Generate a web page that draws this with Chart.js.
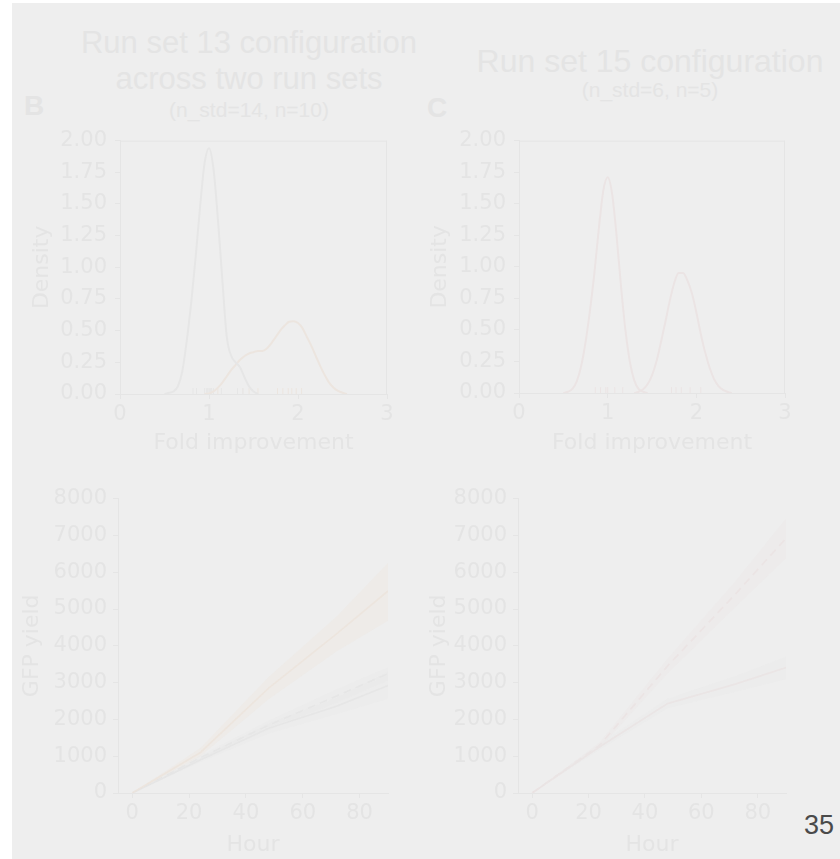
<!DOCTYPE html>
<html>
<head>
<meta charset="utf-8">
<script src="https://cdn.jsdelivr.net/npm/chart.js@4.4.0/dist/chart.umd.min.js"></script>
<style>
  html, body { margin: 0; padding: 0; background: #ffffff; }
  #page { position: relative; width: 840px; height: 859px; overflow: hidden; background: #ffffff; }
  #panel { position: absolute; left: 12px; top: 3px; width: 828px; height: 856px; background: #eeeeee; }
  canvas { position: absolute; }
  .t { position: absolute; font-family: "Liberation Sans", Arial, sans-serif; color: #e4e4e4; white-space: nowrap; text-align: center; }
</style>
</head>
<body>
<div id="page">
  <div id="panel"></div>
  <div class="t" style="left:0px; width:498px; top:25px; font-size:31px; line-height:36px;">Run set 13 configuration<br>across two run sets</div>
  <div class="t" style="left:0px; width:498px; top:98px; font-size:21px; line-height:24px;">(n_std=14, n=10)</div>
  <div class="t" style="left:24px; top:90px; font-size:28px; line-height:32px; font-weight:bold; text-align:left;">B</div>
  <div class="t" style="left:450px; width:400px; top:43px; font-size:32px; line-height:36px;">Run set 15 configuration</div>
  <div class="t" style="left:450px; width:400px; top:78px; font-size:21px; line-height:24px;">(n_std=6, n=5)</div>
  <div class="t" style="left:427px; top:92px; font-size:28px; line-height:32px; font-weight:bold; text-align:left;">C</div>
  <div class="t" style="left:804px; top:810px; font-size:27px; line-height:31px; color:#4a4a4a; text-align:left;">35</div>
  <canvas id="cB1" width="400" height="345" style="left:12px; top:120px;"></canvas>
  <canvas id="cC1" width="400" height="345" style="left:412px; top:120px;"></canvas>
  <canvas id="cB2" width="400" height="379" style="left:12px; top:480px;"></canvas>
  <canvas id="cC2" width="400" height="379" style="left:412px; top:480px;"></canvas>
</div>
<script>
// ---------------- DATA ----------------
// Panel B, density (fold improvement)
const densB_std_x = [0.50,0.55,0.60,0.65,0.70,0.75,0.80,0.85,0.90,0.95,1.00,1.05,1.10,1.15,1.20,1.25,1.30,1.35,1.40,1.45,1.50,1.55];
const densB_std_y = [0.00,0.01,0.02,0.06,0.18,0.42,0.72,1.08,1.48,1.82,1.94,1.78,1.38,0.90,0.45,0.30,0.25,0.21,0.13,0.06,0.02,0.00];
const densB_new_x = [0.95,1.00,1.05,1.10,1.15,1.20,1.25,1.30,1.35,1.40,1.45,1.50,1.55,1.60,1.65,1.70,1.75,1.80,1.85,1.90,1.95,2.00,2.05,2.10,2.15,2.20,2.25,2.30,2.35,2.40,2.45,2.50,2.55];
const densB_new_y = [0.00,0.005,0.02,0.05,0.09,0.14,0.19,0.23,0.27,0.30,0.32,0.33,0.34,0.34,0.36,0.40,0.45,0.50,0.54,0.57,0.575,0.56,0.52,0.45,0.38,0.30,0.22,0.15,0.09,0.05,0.025,0.01,0.00];
const rugB_std = [0.82,0.86,0.95,0.97,0.98,0.99,1.00,1.01,1.02,1.03,1.05,1.14,1.32,1.38];
const rugB_new = [1.10,1.38,1.45,1.55,1.77,1.83,1.89,1.93,1.98,2.04];
// Panel C, density
const densC_std_x = [0.50,0.55,0.60,0.65,0.70,0.75,0.80,0.85,0.90,0.95,1.00,1.05,1.10,1.15,1.20,1.25,1.30,1.35,1.40,1.45];
const densC_std_y = [0.00,0.01,0.03,0.09,0.21,0.40,0.65,0.95,1.30,1.60,1.71,1.58,1.25,0.85,0.50,0.25,0.10,0.03,0.01,0.00];
const densC_new_x = [1.30,1.35,1.40,1.45,1.50,1.55,1.60,1.65,1.70,1.75,1.80,1.85,1.90,1.95,2.00,2.05,2.10,2.15,2.20,2.25,2.30,2.35,2.40];
const densC_new_y = [0.00,0.01,0.03,0.07,0.14,0.25,0.40,0.56,0.73,0.87,0.95,0.95,0.89,0.79,0.64,0.47,0.32,0.20,0.11,0.055,0.025,0.01,0.00];
const rugC_std = [0.86,0.92,0.98,1.00,1.08,1.17];
const rugC_new = [1.72,1.77,1.83,1.93,2.05];
const rugHeight = 0.023;
// Density axis ticks
const densYTicks = [0,0.25,0.5,0.75,1,1.25,1.5,1.75,2];
const densXTicks = [0,1,2,3];
// Growth curves (GFP yield vs hour)
const hours = [0,24,48,72,90];
const B_std_mean = [0,900,1760,2360,2920];
const B_std_lo   = [0,840,1620,2150,2560];
const B_std_hi   = [0,960,1900,2600,3300];
const B_std2_mean = [0,960,1840,2640,3240];
const B_std2_lo   = [0,900,1720,2450,3050];
const B_std2_hi   = [0,1020,1960,2820,3420];
const B_new_mean = [0,1100,2850,4330,5490];
const B_new_lo   = [0,1000,2550,3850,4680];
const B_new_hi   = [0,1220,3150,4800,6250];
const C_std_mean = [0,1260,2430,2960,3410];
const C_std_lo   = [0,1180,2300,2750,3100];
const C_std_hi   = [0,1340,2560,3170,3700];
const C_new_mean = [0,1300,3450,5400,6920];
const C_new_lo   = [0,1220,3250,5050,6380];
const C_new_hi   = [0,1380,3650,5750,7460];
const gfpYTicks = [0,1000,2000,3000,4000,5000,6000,7000,8000];
const hourTicks = [0,20,40,60,80];

// ---------------- STYLE ----------------
const AX = '#e5e5e5';
const TXT = '#e4e4e4';
const GRAY = '#e6e6e6';
const ORANGE = '#ece5df';
const PINK = '#ebe4e4';
const TICKFONT = { family: 'DejaVu Sans', size: 21 };

const zip = (xs, ys) => xs.map((x, i) => ({ x: x, y: ys[i] }));
const rug = (xs) => xs.map(x => ({ x: x, y: rugHeight }));

const boxPlugin = {
  id: 'box',
  afterDraw(chart, args, opts) {
    if (!opts.on) return;
    const a = chart.chartArea, c = chart.ctx;
    c.save();
    c.strokeStyle = AX; c.lineWidth = 1;
    c.beginPath();
    c.moveTo(a.left, a.top + 0.5); c.lineTo(a.right, a.top + 0.5);
    c.moveTo(a.right - 0.5, a.top); c.lineTo(a.right - 0.5, a.bottom);
    c.stroke();
    c.restore();
  }
};

function xScale(min, max, ticks, title, h, titlePad) {
  return {
    type: 'linear', min: min, max: max,
    afterBuildTicks: s => { s.ticks = ticks.map(v => ({ value: v })); },
    afterFit: s => { s.height = h; },
    grid: { drawOnChartArea: false, color: AX, tickLength: 5, tickColor: AX },
    border: { color: AX, width: 1 },
    ticks: { color: TXT, font: TICKFONT, padding: 3, maxRotation: 0, autoSkip: false },
    title: { display: true, text: title, color: TXT, font: { family: 'DejaVu Sans', size: 22 }, padding: { top: 0, bottom: titlePad } }
  };
}
function yScale(min, max, ticks, fmt, title, w, tickPad, titlePad) {
  return {
    type: 'linear', min: min, max: max,
    afterBuildTicks: s => { s.ticks = ticks.map(v => ({ value: v })); },
    afterFit: s => { s.width = w; },
    grid: { drawOnChartArea: false, color: AX, tickLength: 5, tickColor: AX },
    border: { color: AX, width: 1 },
    ticks: { color: TXT, font: TICKFONT, padding: tickPad, autoSkip: false, callback: fmt },
    title: { display: true, text: title, color: TXT, font: { family: 'DejaVu Sans', size: 22 }, padding: { top: titlePad, bottom: 0 } }
  };
}

function lineDs(data, color, dash) {
  return { type: 'line', data: data, borderColor: color, borderWidth: 1.8, borderDash: dash || [], pointRadius: 0, fill: false, tension: 0 };
}
function bandDs(lo, hi, color) {
  return [
    { type: 'line', data: zip(hours, hi), borderWidth: 0, borderColor: 'rgba(0,0,0,0)', pointRadius: 0, fill: false, tension: 0 },
    { type: 'line', data: zip(hours, lo), borderWidth: 0, borderColor: 'rgba(0,0,0,0)', pointRadius: 0, fill: '-1', backgroundColor: color, tension: 0 }
  ];
}
function curveDs(data, color) {
  return { type: 'line', data: data, borderColor: color, borderWidth: 2, pointRadius: 0, fill: false, cubicInterpolationMode: 'monotone' };
}
function rugDs(data, color) {
  return { type: 'scatter', data: data, pointStyle: 'line', rotation: 90, radius: 3, borderColor: color, borderWidth: 1, backgroundColor: color };
}

const common = (pad, box) => ({
  responsive: false, animation: false, devicePixelRatio: 1,
  layout: { padding: pad },
  plugins: { legend: { display: false }, tooltip: { enabled: false }, box: { on: box } },
  elements: { line: { borderCapStyle: 'butt' } }
});

// Panel B density
new Chart(document.getElementById('cB1'), {
  type: 'line',
  data: { datasets: [
    curveDs(zip(densB_std_x, densB_std_y), GRAY),
    curveDs(zip(densB_new_x, densB_new_y), ORANGE),
    rugDs(rug(rugB_std), GRAY),
    rugDs(rug(rugB_new), ORANGE)
  ]},
  options: Object.assign(common({ left: 0, top: 15, right: 25, bottom: 0 }, true), {
    scales: {
      x: xScale(0, 3, densXTicks, 'Fold improvement', 71, 9),
      y: yScale(0, 2, densYTicks, v => Number(v).toFixed(2), 'Density', 108, 8, 17)
    }
  }),
  plugins: [boxPlugin]
});

// Panel C density
new Chart(document.getElementById('cC1'), {
  type: 'line',
  data: { datasets: [
    curveDs(zip(densC_std_x, densC_std_y), PINK),
    curveDs(zip(densC_new_x, densC_new_y), PINK),
    rugDs(rug(rugC_std), PINK),
    rugDs(rug(rugC_new), PINK)
  ]},
  options: Object.assign(common({ left: 0, top: 14, right: 27, bottom: 0 }, true), {
    scales: {
      x: xScale(0, 3, densXTicks, 'Fold improvement', 72, 9),
      y: yScale(0, 2, densYTicks, v => Number(v).toFixed(2), 'Density', 107, 8, 15)
    }
  }),
  plugins: [boxPlugin]
});

// Panel B growth
new Chart(document.getElementById('cB2'), {
  type: 'line',
  data: { datasets: [].concat(
    bandDs(B_new_lo, B_new_hi, 'rgba(238,230,222,0.35)'),
    bandDs(B_std2_lo, B_std2_hi, 'rgba(230,230,230,0.25)'),
    bandDs(B_std_lo, B_std_hi, 'rgba(230,230,230,0.25)'),
    [ lineDs(zip(hours, B_new_mean), ORANGE),
      lineDs(zip(hours, B_std2_mean), GRAY, [8, 5]),
      lineDs(zip(hours, B_std_mean), GRAY) ]
  )},
  options: Object.assign(common({ left: 0, top: 17, right: 24, bottom: 0 }, false), {
    scales: {
      x: xScale(-5, 90, hourTicks, 'Hour', 66, 1),
      y: yScale(0, 8000, gfpYTicks, v => String(v), 'GFP yield', 106, 6, 7)
    }
  })
});

// Panel C growth
new Chart(document.getElementById('cC2'), {
  type: 'line',
  data: { datasets: [].concat(
    bandDs(C_new_lo, C_new_hi, 'rgba(236,228,228,0.3)'),
    bandDs(C_std_lo, C_std_hi, 'rgba(232,230,230,0.25)'),
    [ lineDs(zip(hours, C_new_mean), PINK, [8, 5]),
      lineDs(zip(hours, C_std_mean), PINK) ]
  )},
  options: Object.assign(common({ left: 0, top: 18, right: 26, bottom: 0 }, false), {
    scales: {
      x: xScale(-5, 90, hourTicks, 'Hour', 66, 1),
      y: yScale(0, 8000, gfpYTicks, v => String(v), 'GFP yield', 106, 6, 14)
    }
  })
});
</script>
</body>
</html>
